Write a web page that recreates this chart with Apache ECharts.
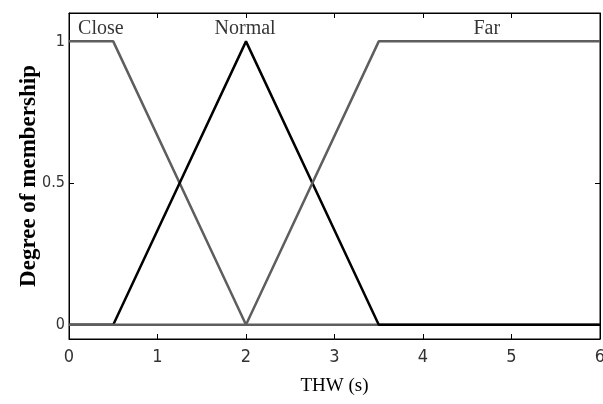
<!DOCTYPE html>
<html>
<head>
<meta charset="utf-8">
<script src="https://cdn.jsdelivr.net/npm/echarts@6/dist/echarts.min.js"></script>
<style>
  html, body { margin: 0; padding: 0; background: #fff; }
  #chart { width: 603px; height: 404px; }
</style>
</head>
<body>
<div id="chart"></div>
<script>
// membership functions, breakpoints
const closeX = [0, 0.5, 2, 6]
const closeY = [1, 1, 0, 0]
const normalX = [0, 0.5, 2, 3.5, 6]
const normalY = [0, 0, 1, 0, 0]
const farX = [0, 2, 3.5, 6]
const farY = [0, 0, 1, 1]

const mfNames = ['Close', 'Normal', 'Far']
const mfLabelX = [0.36, 1.99, 4.72]
const mfLabelY = [1.046, 1.046, 1.046]

const yTicks = [0, 0.5, 1]

const tickFont = "'DejaVu Sans Condensed', 'Liberation Sans Narrow', sans-serif"
const serif = "'Liberation Serif', 'DejaVu Serif', serif"

function pairs(xs, ys) {
  return xs.map((x, i) => [x, ys[i]])
}

const chart = echarts.init(document.getElementById('chart'))

const baseX = {
  type: 'value',
  min: 0,
  max: 6,
  interval: 1,
  axisLine: { show: true, onZero: false, lineStyle: { color: '#000', width: 1 } },
  axisTick: { show: true, inside: true, length: 5, lineStyle: { color: '#000' } },
  splitLine: { show: false }
}

const baseY = {
  type: 'value',
  min: -0.05,
  max: 1.1,
  axisLine: { show: true, onZero: false, lineStyle: { color: '#000', width: 1 } },
  axisTick: { show: true, inside: true, length: 5, customValues: yTicks, lineStyle: { color: '#000' } },
  splitLine: { show: false }
}

const option = {
  animation: false,
  backgroundColor: '#fff',
  grid: {
    left: 69,
    right: 3,
    top: 13,
    bottom: 65,
    outerBoundsMode: 'none',
    containLabel: false,
    show: true,
    borderColor: '#000',
    borderWidth: 1
  },
  xAxis: [
    {
      ...baseX,
      position: 'bottom',
      name: 'THW (s)',
      nameLocation: 'middle',
      nameGap: 38,
      nameMoveOverlap: false,
      nameTextStyle: { fontFamily: serif, fontSize: 19, color: '#000' },
      axisLabel: { fontFamily: tickFont, fontSize: 18, color: '#333', margin: 9 }
    },
    {
      ...baseX,
      position: 'top',
      axisLabel: { show: false }
    }
  ],
  yAxis: [
    {
      ...baseY,
      position: 'left',
      name: 'Degree of membership',
      nameLocation: 'middle',
      nameGap: 28,
      nameMoveOverlap: false,
      nameTextStyle: { fontFamily: serif, fontSize: 23, fontWeight: 'bold', color: '#000' },
      axisLabel: { fontFamily: tickFont, fontSize: 16, color: '#333', margin: 4, customValues: yTicks }
    },
    {
      ...baseY,
      position: 'right',
      axisLabel: { show: false }
    }
  ],
  series: [
    {
      name: 'Close',
      type: 'line',
      data: pairs(closeX, closeY),
      symbol: 'none',
      lineStyle: { color: '#5e5e5e', width: 2.5 }
    },
    {
      name: 'Normal',
      type: 'line',
      data: pairs(normalX, normalY),
      symbol: 'none',
      lineStyle: { color: '#000', width: 2.5 }
    },
    {
      name: 'Far',
      type: 'line',
      data: pairs(farX, farY),
      symbol: 'none',
      lineStyle: { color: '#5e5e5e', width: 2.5 }
    },
    {
      type: 'scatter',
      symbolSize: 0,
      silent: true,
      data: mfNames.map((n, i) => ({ name: n, value: [mfLabelX[i], mfLabelY[i]] })),
      label: {
        show: true,
        position: 'inside',
        formatter: p => p.name,
        fontFamily: serif,
        fontSize: 20,
        color: '#000'
      }
    }
  ]
}

chart.setOption(option)
</script>
</body>
</html>
